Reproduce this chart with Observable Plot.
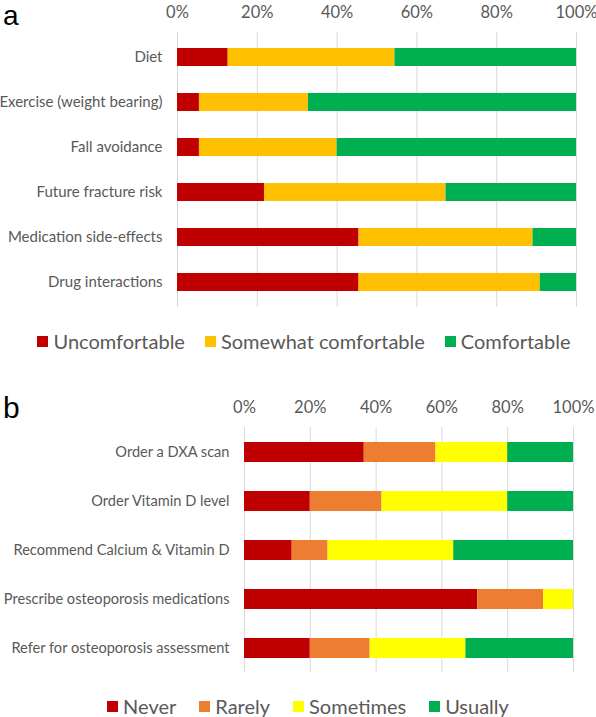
<!DOCTYPE html>
<html>
<head>
<meta charset="utf-8">
<script src="https://cdn.jsdelivr.net/npm/d3@7"></script>
<script src="https://cdn.jsdelivr.net/npm/@observablehq/plot@0.6"></script>
<style>
  html, body { margin: 0; padding: 0; background: #fff; }
  #root { position: relative; width: 596px; height: 717px; overflow: hidden; font-family: Lato, "Open Sans", sans-serif; }
  .panel { position: absolute; left: 0; }
  .plabel { position: absolute; font-family: "Liberation Sans", Arial, sans-serif; color: #000; line-height: 1; }
  .legend { position: absolute; display: flex; align-items: center; justify-content: center; color: #595959; white-space: nowrap; }
  .legend .item { display: flex; align-items: center; }
  .legend .sw { width: 11px; height: 11px; margin-right: 5px; }
</style>
</head>
<body>
<div id="root"></div>
<script>
// ---- Panel a data (percent of respondents) ----
const topicsA = ["Diet", "Exercise (weight bearing)", "Fall avoidance", "Future fracture risk", "Medication side-effects", "Drug interactions"];
const responsesA = ["Uncomfortable", "Somewhat comfortable", "Comfortable"];
const colorsA = ["#C00000", "#FFC000", "#00B050"];
const uncomfortable = [12.7, 5.5, 5.5, 21.8, 45.5, 45.5];
const somewhatComfortable = [41.8, 27.3, 34.5, 45.5, 43.6, 45.4];
const comfortable = [45.5, 67.2, 60.0, 32.7, 10.9, 9.1];

// ---- Panel b data (percent of respondents) ----
const actionsB = ["Order a DXA scan", "Order Vitamin D level", "Recommend Calcium & Vitamin D", "Prescribe osteoporosis medications", "Refer for osteoporosis assessment"];
const responsesB = ["Never", "Rarely", "Sometimes", "Usually"];
const colorsB = ["#C00000", "#ED7D31", "#FFFF00", "#00B050"];
const never = [36.4, 20.0, 14.5, 70.9, 20.0];
const rarely = [21.8, 21.8, 10.9, 20.0, 18.2];
const sometimes = [21.8, 38.2, 38.2, 9.1, 29.1];
const usually = [20.0, 20.0, 36.4, 0.0, 32.7];

const xTicks = [0, 20, 40, 60, 80, 100];

function longForm(cats, responses, series) {
  const out = [];
  responses.forEach((r, j) => cats.forEach((c, i) => out.push({cat: c, resp: r, value: series[j][i]})));
  return out;
}

const dataA = longForm(topicsA, responsesA, [uncomfortable, somewhatComfortable, comfortable]);
const dataB = longForm(actionsB, responsesB, [never, rarely, sometimes, usually]);

const FONT = "Lato, 'Open Sans', sans-serif";
const GRAY = "#595959";

function makePanel({data, cats, responses, colors, height, marginTop, marginBottom, marginLeft, marginRight, yFont}) {
  return Plot.plot({
    width: 596,
    height,
    marginTop, marginBottom, marginLeft, marginRight,
    style: {fontFamily: FONT, fontSize: "15px", color: GRAY, background: "white", overflow: "visible"},
    x: {domain: [0, 100]},
    y: {domain: cats, paddingInner: 0.6, paddingOuter: 0.3},
    color: {domain: responses, range: colors},
    marks: [
      Plot.gridX(xTicks, {stroke: "#d9d9d9", strokeOpacity: 1, strokeWidth: 1}),
      Plot.barX(data, {x: "value", y: "cat", fill: "resp", order: responses}),
      Plot.axisX({anchor: "top", ticks: xTicks, tickSize: 0, tickPadding: 15, tickFormat: d => d + "%", label: null, fill: GRAY, fontSize: 16.5}),
      Plot.axisY({tickSize: 0, tickPadding: 15, label: null, fill: GRAY, fontSize: yFont})
    ]
  });
}

const root = document.getElementById("root");

// Panel a
const wrapA = document.createElement("div");
wrapA.className = "panel";
wrapA.style.top = "0px";
wrapA.appendChild(makePanel({data: dataA, cats: topicsA, responses: responsesA, colors: colorsA,
  height: 320, marginTop: 32, marginBottom: 13, marginLeft: 177, marginRight: 20, yFont: 15}));
root.appendChild(wrapA);

// Panel b
const wrapB = document.createElement("div");
wrapB.className = "panel";
wrapB.style.top = "380px";
wrapB.appendChild(makePanel({data: dataB, cats: actionsB, responses: responsesB, colors: colorsB,
  height: 300, marginTop: 47, marginBottom: 8, marginLeft: 244, marginRight: 23, yFont: 14.6}));
root.appendChild(wrapB);

// Panel labels
function addLabel(text, left, top, size) {
  const d = document.createElement("div");
  d.className = "plabel";
  d.textContent = text;
  d.style.left = left + "px";
  d.style.top = top + "px";
  d.style.fontSize = size + "px";
  root.appendChild(d);
}
addLabel("a", 3, 2, 28);
addLabel("b", 3, 393, 30);

// Legends
function addLegend(responses, colors, left, width, top, gaps, size) {
  const lg = document.createElement("div");
  lg.className = "legend";
  lg.style.left = left + "px";
  lg.style.width = width + "px";
  lg.style.top = top + "px";
  lg.style.fontSize = size + "px";
  responses.forEach((r, i) => {
    const it = document.createElement("div");
    it.className = "item";
    if (i > 0) it.style.marginLeft = gaps + "px";
    const sw = document.createElement("div");
    sw.className = "sw";
    sw.style.background = colors[i];
    const tx = document.createElement("span");
    tx.textContent = r;
    it.appendChild(sw);
    it.appendChild(tx);
    lg.appendChild(it);
  });
  root.appendChild(lg);
}
addLegend(responsesA, colorsA, 6, 596, 329, 20, 20);
addLegend(responsesB, colorsB, 10, 596, 694, 23, 20);
</script>
</body>
</html>
